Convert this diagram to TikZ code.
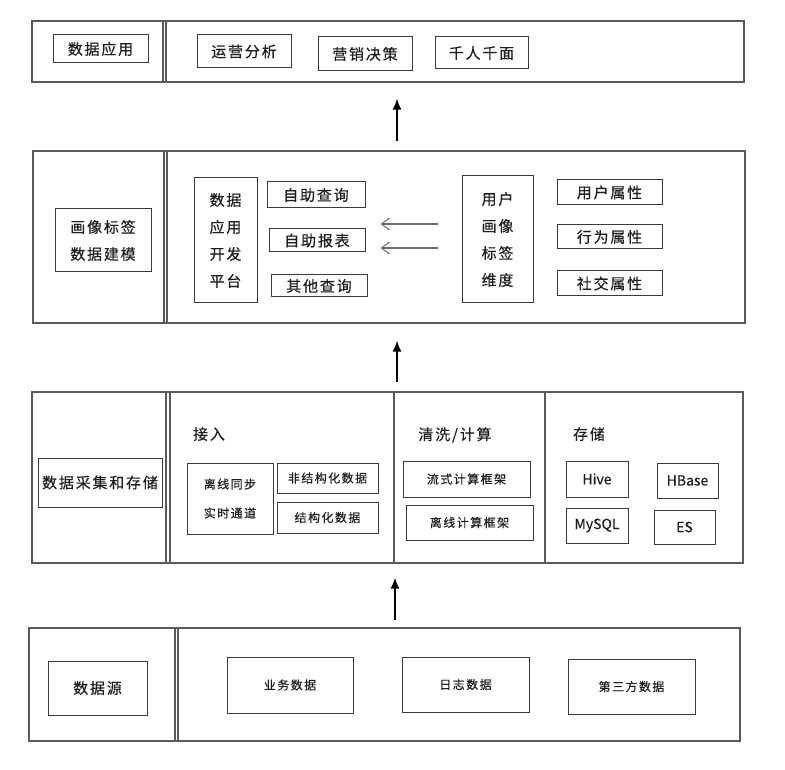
\documentclass[tikz,border=0pt]{standalone}
\usepackage{fontspec}
\usepackage{tikz}
\usetikzlibrary{positioning,arrows.meta,calc}
\newfontfamily\cjk[LetterSpace=12,FakeBold=0.4]{Noto Sans CJK SC}
\newfontfamily\latn[FakeBold=0.4]{Noto Sans CJK SC}
\newcommand{\bigtxt}{\fontsize{15}{27}\cjk}
\newcommand{\smalltxt}{\fontsize{12}{29}\cjk}
\newcommand{\latintxt}{\fontsize{14}{15}\latn}
\definecolor{linegray}{HTML}{5A5A5A}
\definecolor{inkgray}{HTML}{3A3A3A}
\definecolor{inkblack}{HTML}{1E1E1E}
\definecolor{feedgray}{HTML}{6E6E6E}
\tikzset{
  panel/.style={draw=linegray, line width=1.1pt, inner sep=0pt},
  cell/.style={draw=inkgray, line width=1pt, inner sep=0pt, text=inkblack, align=center, font=\bigtxt},
  smallcell/.style={cell, font=\smalltxt},
  latincell/.style={cell, font=\latintxt},
  tag/.style={text=inkblack, font=\bigtxt},
  lift/.style={line width=1.8pt, -{Latex[length=11pt,width=9pt]}},
  feed/.style={draw=feedgray, line width=1.1pt, -{Straight Barb[length=8pt,width=12pt]}}
}

\begin{document}
\begin{tikzpicture}[x=1pt, y=-1pt]
  \useasboundingbox (0,0) rectangle (785,770);

  \node[panel, minimum width=712, minimum height=61] (appsLayer) at (388,51.5) {};
  \foreach \x in {163,166}
    \draw[linegray, line width=1.1pt] (appsLayer.north -| \x,0) -- (appsLayer.south -| \x,0);
  \node[cell, minimum width=95, minimum height=28] (appTitle) at (100.5,49) {数据应用};
  \node[cell, minimum width=94, minimum height=33] (ops) at (244,51.5) {运营分析};
  \node[cell, minimum width=94, minimum height=34] (marketing) at (365,54) {营销决策};
  \node[cell, minimum width=93, minimum height=32] (persona) at (481.5,53) {千人千面};

  \node[panel, minimum width=712, minimum height=172] (modelLayer) at (389,237) {};
  \foreach \x in {164,167}
    \draw[linegray, line width=1.1pt] (modelLayer.north -| \x,0) -- (modelLayer.south -| \x,0);
  \node[cell, minimum width=96, minimum height=63] (modelTitle) at (103,240.5) {画像标签\\数据建模};
  \node[cell, minimum width=63, minimum height=125] (devPlat) at (225.5,240.5) {数据\\应用\\开发\\平台};
  \node[cell, minimum width=98, minimum height=26] (selfQuery) at (316,195) {自助查询};
  \node[cell, minimum width=96, minimum height=23] (selfReport) at (317,240.5) {自助报表};
  \node[cell, minimum width=96, minimum height=22] (otherQuery) at (319,286) {其他查询};
  \node[cell, minimum width=71, minimum height=127] (tagDim) at (497.5,239.5) {用户\\画像\\标签\\维度};
  \node[cell, minimum width=105, minimum height=25] (userAttr) at (609.5,192.5) {用户属性};
  \node[cell, minimum width=105, minimum height=24] (actAttr) at (609.5,237) {行为属性};
  \node[cell, minimum width=105, minimum height=25] (socialAttr) at (609.5,283.5) {社交属性};
  \draw[feed, shorten <=24pt, shorten >=15pt] ([yshift=15.5pt]tagDim.west) -- ([yshift=15.5pt]tagDim.west -| selfReport.east);
  \draw[feed, shorten <=24pt, shorten >=15pt] ([yshift=-8.5pt]tagDim.west) -- ([yshift=-8.5pt]tagDim.west -| selfReport.east);

  \node[panel, minimum width=711, minimum height=171] (storeLayer) at (387.5,477.5) {};
  \foreach \x in {166,170,394,545}
    \draw[linegray, line width=1.1pt] (storeLayer.north -| \x,0) -- (storeLayer.south -| \x,0);
  \node[cell, minimum width=124, minimum height=49] (storeTitle) at (100,482.5) {数据采集和存储};
  \node[tag] (ingestTag) at (209,434) {接入};
  \node[smallcell, minimum width=86, minimum height=71] (sync) at (230,498.5) {离线同步\\实时通道};
  \node[smallcell, minimum width=101, minimum height=30] (unstruct) at (327.5,478) {非结构化数据};
  \node[smallcell, minimum width=101, minimum height=31] (struct) at (327.5,517.5) {结构化数据};
  \node[tag] (cleanTag) at (455,435) {清洗/计算};
  \node[smallcell, minimum width=127, minimum height=36] (stream) at (466.5,479) {流式计算框架};
  \node[smallcell, minimum width=127, minimum height=35] (batch) at (469.5,522.5) {离线计算框架};
  \node[tag] (saveTag) at (589,434) {存储};
  \node[latincell, minimum width=62, minimum height=36] (hive) at (597,479) {Hive};
  \node[latincell, minimum width=61, minimum height=35] (hbase) at (687.5,480.5) {HBase};
  \node[latincell, minimum width=62, minimum height=35] (mysql) at (597,525.5) {MySQL};
  \node[latincell, minimum width=61, minimum height=34] (es) at (684.5,527) {ES};

  \node[panel, minimum width=711, minimum height=113] (srcLayer) at (384.5,684.5) {};
  \foreach \x in {175,178}
    \draw[linegray, line width=1.1pt] (srcLayer.north -| \x,0) -- (srcLayer.south -| \x,0);
  \node[cell, minimum width=99, minimum height=54] (srcTitle) at (97.5,688) {数据源};
  \node[smallcell, minimum width=126, minimum height=56] (bizData) at (290,685) {业务数据};
  \node[smallcell, minimum width=127, minimum height=55] (logData) at (465.5,684.5) {日志数据};
  \node[smallcell, minimum width=127, minimum height=55] (extData) at (631.5,686.5) {第三方数据};

  \draw[lift, shorten <=9pt, shorten >=16pt] ([xshift=8pt]modelLayer.north) -- ([xshift=9pt]appsLayer.south);
  \draw[lift, shorten <=9pt, shorten >=17pt] ([xshift=9.5pt]storeLayer.north) -- ([xshift=8pt]modelLayer.south);
  \draw[lift, shorten <=7pt, shorten >=14pt] ([xshift=10.5pt]srcLayer.north) -- ([xshift=7.5pt]storeLayer.south);
\end{tikzpicture}
\end{document}
